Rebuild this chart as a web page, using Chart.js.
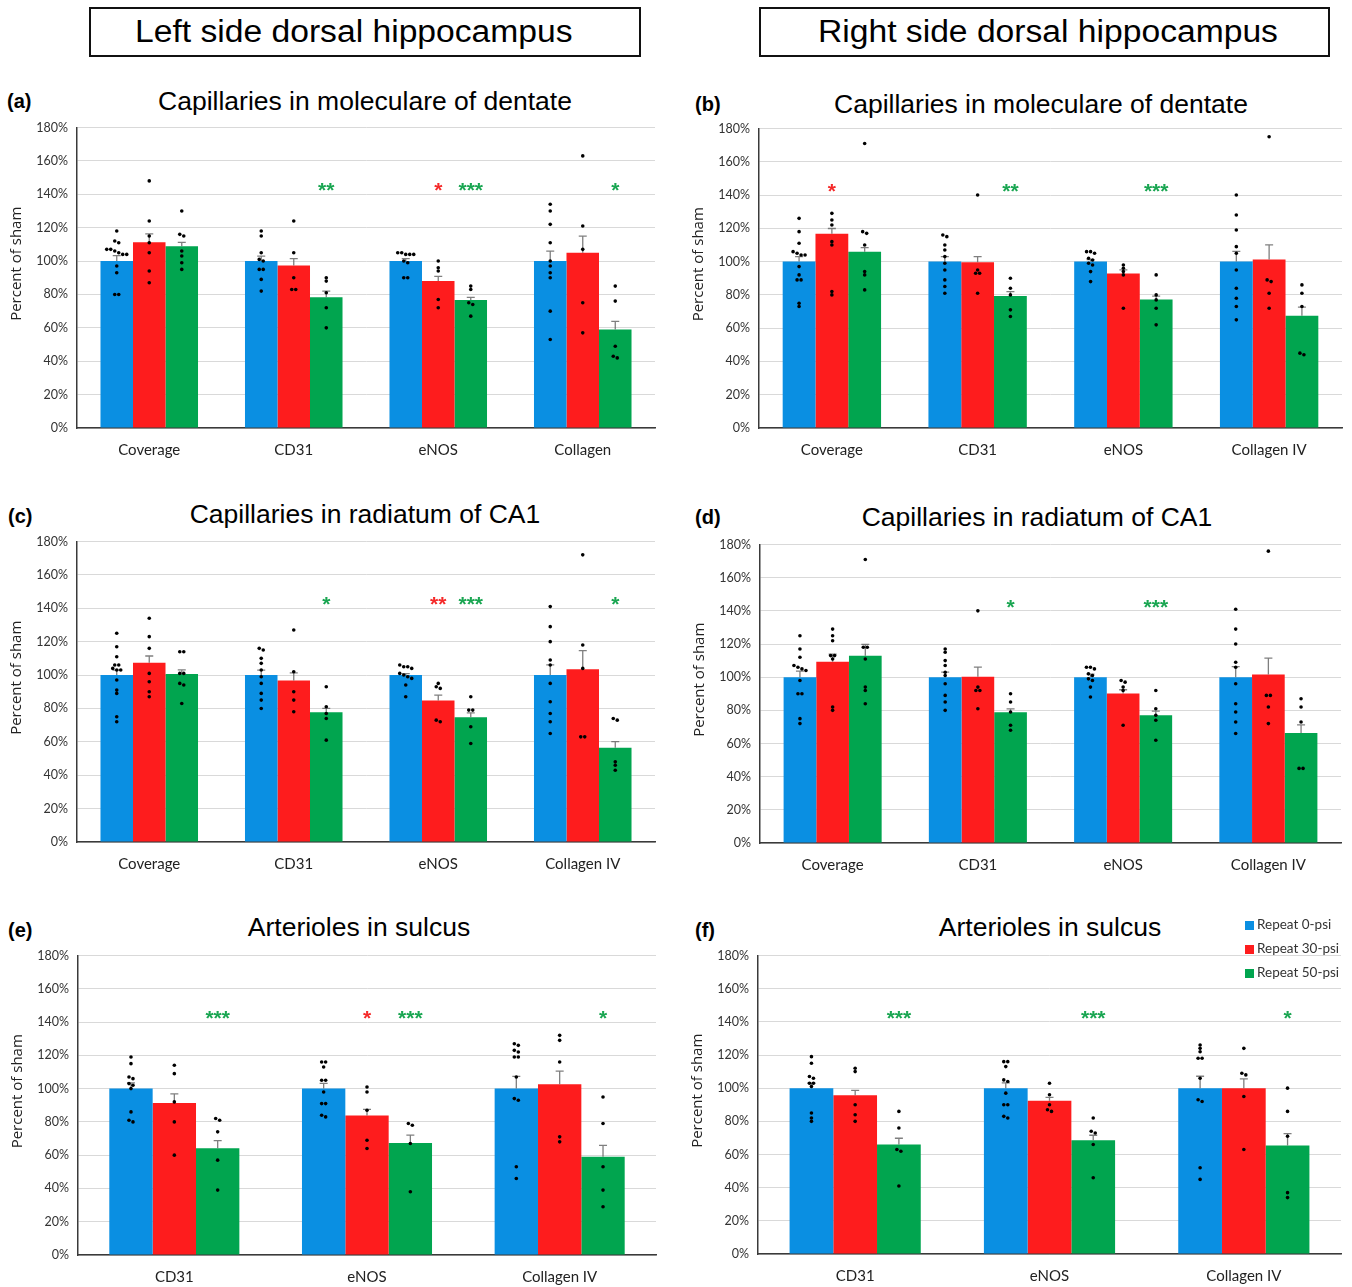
<!DOCTYPE html>
<html>
<head>
<meta charset="utf-8">
<script src="https://cdn.jsdelivr.net/npm/chart.js@4.4.1/dist/chart.umd.min.js"></script>
<style>
  html, body { margin: 0; padding: 0; background: #fff; }
  body { position: relative; width: 1352px; height: 1287px; overflow: hidden; font-family: "Liberation Sans", Arial, sans-serif; color: #000; }
  .side { position: absolute; top: 7px; height: 50px; box-sizing: border-box; border: 2px solid #111; font-size: 31px; line-height: 46px; white-space: nowrap; }
  .side span { display: inline-block; transform: scaleX(1.085); transform-origin: 0 50%; }
  .plabel { position: absolute; font-weight: bold; font-size: 20px; line-height: 22px; transform: translateY(-50%); }
  .ptitle { position: absolute; font-size: 26.5px; line-height: 30px; white-space: nowrap; transform: translate(-50%, -50%); }
  canvas { position: absolute; }
  .legend { position: absolute; left: 1245px; top: 914px; font-family: Lato, "Liberation Sans", sans-serif; font-size: 13.5px; color: #333; }
  .legend div { height: 24px; line-height: 20px; white-space: nowrap; }
  .legend span { display: inline-block; width: 9px; height: 9px; margin-right: 3px; vertical-align: -0.5px; }
</style>
</head>
<body>
<script>
// ---- text ----
const sideTitles = ['Left side dorsal hippocampus', 'Right side dorsal hippocampus'];
const panelTitles = ['Capillaries in moleculare of dentate', 'Capillaries in moleculare of dentate',
                     'Capillaries in radiatum of CA1', 'Capillaries in radiatum of CA1',
                     'Arterioles in sulcus', 'Arterioles in sulcus'];
const panelLetters = ['(a)', '(b)', '(c)', '(d)', '(e)', '(f)'];
const seriesNames = ['Repeat 0-psi', 'Repeat 30-psi', 'Repeat 50-psi'];
const yAxisTitle = 'Percent of sham';
const catsA = ['Coverage', 'CD31', 'eNOS', 'Collagen'];
const catsCap = ['Coverage', 'CD31', 'eNOS', 'Collagen IV'];
const catsArt = ['CD31', 'eNOS', 'Collagen IV'];
const sigLevel = 145.5;   // height (in %) of the significance stars

// ---- (a) left, capillaries in moleculare of dentate ----
const aMean = [[100, 100, 100, 100], [111.2, 97.4, 88, 105], [108.8, 78.3, 76.7, 59]];
const aSem  = [[3.2, 3, 1.4, 6], [5.1, 4, 2.8, 9.9], [2.4, 3.7, 1.6, 4.9]];
const aDots = [
  [[118,112,111,107,107,106,105,104,104,97,93,80,80], [118,115,105,101,100,95,95,89,82], [105,105,104,104,104,100,99,90,90], [134,130,122,111,100,97,93,90,70,53]],
  [[148,124,115,111,105,94,87], [124,105,90,83,83], [100,96,94,77,72], [163,121,107,75,57]],
  [[130,116,115,106,103,99,95], [90,88,81,72,60], [85,83,75,74,67], [85,76,49,43,42]]
];
const aSig = [['', '', '', ''], ['', '', '*', ''], ['', '**', '***', '*']];

// ---- (b) right, capillaries in moleculare of dentate ----
const bMean = [[100, 100, 100, 100], [116.7, 99.6, 92.8, 101.2], [106, 79.3, 77.3, 67.5]];
const bSem  = [[3, 3, 1.2, 6.2], [3.2, 3.4, 2.2, 8.8], [2.4, 2.7, 2, 5.2]];
const bDots = [
  [[126,118,111,106,105,104,104,97,92,89,89,75,73], [116,115,110,107,103,99,95,89,85,81], [106,106,105,102,101,99,98,94,88], [140,128,119,109,105,95,84,78,73,65]],
  [[129,125,122,112,110,82,80], [140,95,93,93,81], [98,96,94,92,72], [175,89,88,81,72]],
  [[171,118,117,110,94,92,83], [90,84,80,71,67], [92,80,77,72,62], [86,81,73,45,44]]
];
const bSig = [['', '', '', ''], ['*', '', '', ''], ['', '**', '***', '']];

// ---- (c) left, capillaries in radiatum of CA1 ----
const cMean = [[100, 100, 100, 100], [107.3, 96.7, 84.7, 103.5], [100.7, 77.7, 74.7, 56.5]];
const cSem  = [[2.9, 3, 0.9, 6.1], [4.1, 4.6, 3.3, 11.1], [2.4, 2.4, 2.6, 3.6]];
const cDots = [
  [[125,117,111,106,106,104,103,103,97,91,89,75,72], [116,115,110,107,103,99,95,89,85,80], [106,105,105,104,101,100,99,98,94,87], [141,129,120,109,106,95,84,77,72,65]],
  [[134,123,116,101,96,90,87], [127,102,90,85,78], [95,93,92,73,72], [172,118,104,63,63]],
  [[114,114,101,101,95,94,83], [93,81,77,74,61], [87,79,79,69,59], [74,73,48,46,43]]
];
const cSig = [['', '', '', ''], ['', '', '**', ''], ['', '*', '***', '*']];

// ---- (d) right, capillaries in radiatum of CA1 ----
const dMean = [[100, 100, 100, 100], [109.3, 100.3, 90.2, 101.6], [112.9, 78.9, 77, 66.3]];
const dSem  = [[3.6, 3, 1.8, 6.4], [4.6, 5.7, 2.2, 9.9], [6.9, 2, 2.5, 4.9]];
const dDots = [
  [[125,117,112,107,106,105,104,98,90,90,75,72], [117,115,110,107,103,101,96,89,85,80], [106,106,105,102,101,99,98,94,88], [141,129,120,109,106,96,84,79,73,66]],
  [[129,125,122,113,113,111,82,80], [140,94,92,92,81], [98,97,94,92,71], [176,89,89,82,72]],
  [[171,118,118,111,94,92,84], [90,85,79,71,68], [92,81,77,74,62], [87,82,73,45,45]]
];
const dSig = [['', '', '', ''], ['', '', '', ''], ['', '*', '***', '']];

// ---- (e) left, arterioles in sulcus ----
const eMean = [[100, 100, 100], [91.3, 83.9, 102.6], [64.1, 67.3, 59.1]];
const eSem  = [[3.4, 3.2, 7.4], [5.5, 3.6, 7.9], [4.6, 4.7, 6.8]];
const eDots = [
  [[119,115,107,106,103,102,100,86,81,80], [116,116,113,105,105,98,91,91,84,83], [127,126,123,122,119,119,107,94,93,53,46]],
  [[114,109,92,80,60], [101,98,87,69,64], [132,129,116,71,68]],
  [[82,81,74,57,39], [79,78,67,38], [95,79,53,39,29]]
];
const eSig = [['', '', ''], ['', '*', ''], ['***', '***', '*']];

// ---- (f) right, arterioles in sulcus ----
const fMean = [[100, 100, 100], [95.7, 92.4, 100], [66.1, 68.6, 65.5]];
const fSem  = [[3.2, 3.2, 7.2], [3, 2.1, 5.6], [3.7, 3, 7.1]];
const fDots = [
  [[119,115,107,106,103,103,101,85,82,80], [116,116,113,105,104,97,90,90,83,82], [126,124,122,118,118,106,93,92,52,45]],
  [[112,110,90,84,80], [103,96,90,87,86], [124,109,108,95,63]],
  [[86,76,63,62,41], [82,74,73,66,46], [100,86,71,37,34]]
];
const fSig = [['', '', ''], ['', '', ''], ['***', '***', '*']];

// ---- styling ----
const barColors = ['#0a8fe2', '#fe1c1d', '#01a54f'];
const starColors = ['#0a8fe2', '#f52a2a', '#1aa652'];
const Y_AXIS_W = 78, X_AXIS_H = 40, PAD_T = 10, PAD_R = 4;

// plot-area frames of the six panels (layout only)
const frames = [
  { L: 77,  R: 655,  T: 128, B: 428,  tx: 365,  ty: 101, lx: 7,   ly: 101 },
  { L: 759, R: 1342, T: 129, B: 428,  tx: 1041, ty: 104, lx: 695, ly: 104 },
  { L: 77,  R: 655,  T: 542, B: 842,  tx: 365,  ty: 514, lx: 8,   ly: 516 },
  { L: 760, R: 1341, T: 545, B: 843,  tx: 1037, ty: 517, lx: 695, ly: 517 },
  { L: 78,  R: 656,  T: 956, B: 1255, tx: 359,  ty: 927, lx: 8,   ly: 930 },
  { L: 758, R: 1341, T: 956, B: 1254, tx: 1050, ty: 927, lx: 695, ly: 930 }
];
const panelData = [
  [catsA, aMean, aSem, aDots, aSig],
  [catsCap, bMean, bSem, bDots, bSig],
  [catsCap, cMean, cSem, cDots, cSig],
  [catsCap, dMean, dSem, dDots, dSig],
  [catsArt, eMean, eSem, eDots, eSig],
  [catsArt, fMean, fSem, fDots, fSig]
];

// horizontal spread for individual animals whose values nearly coincide
function spread(vals) {
  const order = vals.map((v, i) => i).sort((p, q) => vals[q] - vals[p]);
  const offs = new Array(vals.length).fill(0);
  let s = 0;
  while (s < order.length) {
    let e = s;
    while (e + 1 < order.length && vals[order[e]] - vals[order[e + 1]] < 1.6) e++;
    const n = e - s + 1;
    for (let j = 0; j < n; j++) offs[order[s + j]] = (j - (n - 1) / 2) * 4;
    s = e + 1;
  }
  return offs;
}

// error bars, individual points, stars and the rotated axis title
const overlay = {
  id: 'overlay',
  afterDatasetsDraw(chart) {
    const ctx = chart.ctx, ys = chart.scales.y, area = chart.chartArea;
    chart.data.datasets.forEach((ds, k) => {
      const meta = chart.getDatasetMeta(k);
      meta.data.forEach((bar, i) => {
        const yTop = ys.getPixelForValue(ds.data[i] + ds.sem[i]);
        ctx.save();
        ctx.strokeStyle = 'rgba(95,95,95,0.8)';
        ctx.lineWidth = 1.3;
        ctx.beginPath();
        ctx.moveTo(bar.x, bar.y);
        ctx.lineTo(bar.x, yTop);
        ctx.moveTo(bar.x - 4, yTop);
        ctx.lineTo(bar.x + 4, yTop);
        ctx.stroke();
        const pts = ds.dots[i], offs = spread(pts);
        ctx.fillStyle = '#000';
        pts.forEach((v, j) => {
          ctx.beginPath();
          ctx.arc(bar.x + offs[j], ys.getPixelForValue(v), 1.8, 0, Math.PI * 2);
          ctx.fill();
        });
        if (ds.sig[i]) {
          ctx.fillStyle = starColors[k];
          ctx.font = 'bold 21px "Liberation Sans", Arial, sans-serif';
          ctx.textAlign = 'center';
          ctx.textBaseline = 'alphabetic';
          ctx.fillText(ds.sig[i], bar.x, ys.getPixelForValue(sigLevel) + 12);
        }
        ctx.restore();
      });
    });
    ctx.save();
    ctx.translate(area.left - 60, (area.top + area.bottom) / 2 - 14);
    ctx.rotate(-Math.PI / 2);
    ctx.fillStyle = '#222';
    ctx.font = '15px "Open Sans", "Liberation Sans", sans-serif';
    ctx.textAlign = 'center';
    ctx.textBaseline = 'middle';
    ctx.fillText(yAxisTitle, 0, 0);
    ctx.restore();
  }
};

function addDiv(cls, text, style) {
  const d = document.createElement('div');
  d.className = cls;
  d.textContent = text;
  Object.assign(d.style, style);
  document.body.appendChild(d);
  return d;
}

function addSide(text, style) {
  const d = addDiv('side', '', style);
  const s = document.createElement('span');
  s.textContent = text;
  d.appendChild(s);
}
addSide(sideTitles[0], { left: '89px', width: '552px', paddingLeft: '44px' });
addSide(sideTitles[1], { left: '759px', width: '571px', paddingLeft: '57px' });

function chartConfig(cats, mean, sem, dots, sig) {
  return {
    type: 'bar',
    data: {
      labels: cats,
      datasets: seriesNames.map((name, k) => ({
        label: name,
        data: mean[k],
        sem: sem[k],
        dots: dots[k],
        sig: sig[k],
        backgroundColor: barColors[k],
        borderWidth: 0,
        categoryPercentage: 0.675,
        barPercentage: 1.0
      }))
    },
    options: {
      responsive: false,
      maintainAspectRatio: false,
      animation: false,
      devicePixelRatio: 1,
      layout: { padding: { top: PAD_T, right: PAD_R, left: 0, bottom: 0 } },
      plugins: { legend: { display: false }, tooltip: { enabled: false } },
      scales: {
        x: {
          grid: { display: false, drawTicks: false },
          border: { display: true, color: '#3a3a3a', width: 1.5 },
          ticks: { color: '#222', font: { family: 'Lato', size: 15 }, padding: 13, maxRotation: 0, autoSkip: false },
          afterFit: s => { s.height = X_AXIS_H; }
        },
        y: {
          min: 0, max: 180,
          ticks: { stepSize: 20, color: '#333', font: { family: 'Lato', size: 12.5 }, padding: 9, callback: v => v + '%' },
          grid: { color: '#d9d9d9', lineWidth: 1, drawTicks: false },
          border: { display: true, color: '#3a3a3a', width: 1.5 },
          afterFit: s => { s.width = Y_AXIS_W; }
        }
      }
    },
    plugins: [overlay]
  };
}

frames.forEach((f, p) => {
  const [cats, mean, sem, dots, sig] = panelData[p];
  addDiv('plabel', panelLetters[p], { left: f.lx + 'px', top: f.ly + 'px' });
  addDiv('ptitle', panelTitles[p], { left: f.tx + 'px', top: f.ty + 'px' });

  const cv = document.createElement('canvas');
  const cl = f.L - Y_AXIS_W;
  cv.width = f.R + PAD_R - cl;
  cv.height = f.B - f.T + PAD_T + X_AXIS_H;
  cv.style.left = cl + 'px';
  document.body.appendChild(cv);

  // first pass finds where the plot area starts, second pass sizes the canvas to fit the frame
  let chart = new Chart(cv, chartConfig(cats, mean, sem, dots, sig));
  const top = Math.round(chart.chartArea.top);
  chart.destroy();
  cv.width = f.R + PAD_R - cl;
  cv.height = top + (f.B - f.T) + X_AXIS_H;
  cv.style.top = (f.T - top) + 'px';
  chart = new Chart(cv, chartConfig(cats, mean, sem, dots, sig));
});

// series key, top right of panel (f)
const legend = document.createElement('div');
legend.className = 'legend';
seriesNames.forEach((name, k) => {
  const row = document.createElement('div');
  const sw = document.createElement('span');
  sw.style.background = barColors[k];
  row.appendChild(sw);
  row.appendChild(document.createTextNode(name));
  legend.appendChild(row);
});
document.body.appendChild(legend);
</script>
</body>
</html>
